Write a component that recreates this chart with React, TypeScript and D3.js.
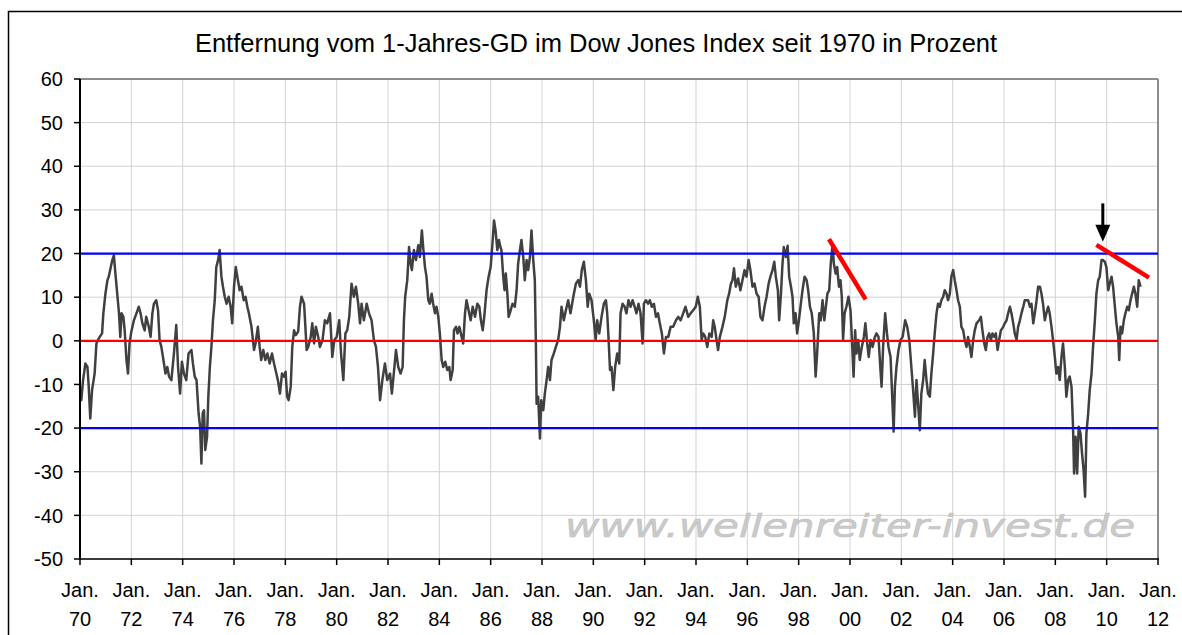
import React from "react";
import * as d3 from "d3";

// values: [decimal year, % distance to 1-year average]
const data1970s: [number, number][] = [
  [1970.0, -10.5], [1970.05, -13.6], [1970.12, -9], [1970.21, -5.2], [1970.29, -6], [1970.34, -10.5], [1970.4, -17.8], [1970.47, -11.3], [1970.53, -9], [1970.57, -7.5], [1970.64, -0.6], [1970.7, 0.2], [1970.77, 0.9], [1970.86, 1.7], [1970.91, 6.3], [1970.99, 10.8],
  [1971.07, 13.9], [1971.12, 14.7], [1971.2, 16.9], [1971.26, 18.5], [1971.32, 19.6], [1971.38, 15.4], [1971.45, 10.8], [1971.52, 6.3], [1971.57, 0.9], [1971.62, 6.3], [1971.69, 5.5], [1971.74, 2.4], [1971.81, -4.4], [1971.87, -7.5], [1971.93, -0.6],
  [1972.0, 2.1], [1972.1, 4.7], [1972.2, 6.3], [1972.29, 7.8], [1972.36, 6.3], [1972.43, 4.0], [1972.52, 2.4], [1972.58, 5.5], [1972.68, 3.2], [1972.75, 0.9], [1972.82, 6.3], [1972.88, 8.5], [1972.97, 9.3],
  [1973.04, 7.0], [1973.1, 0.2], [1973.17, -1.4], [1973.25, -4.4], [1973.33, -7.5], [1973.4, -6], [1973.47, -8.2], [1973.56, -9], [1973.66, -2.9], [1973.75, 3.6], [1973.82, -6], [1973.9, -12.1], [1973.97, -4.8],
  [1974.05, -7.5], [1974.14, -9], [1974.23, -2.9], [1974.34, -2.1], [1974.4, -5.2], [1974.47, -8.2], [1974.54, -9], [1974.62, -16.6], [1974.68, -19.7], [1974.73, -28.1], [1974.78, -16.6], [1974.83, -15.9], [1974.88, -25], [1974.95, -22],
  [1975.0, -12.8], [1975.06, -6], [1975.12, -1.4], [1975.18, 4.7], [1975.25, 9.3], [1975.31, 16.9], [1975.38, 18.5], [1975.44, 20.8], [1975.51, 14.7], [1975.57, 12.4], [1975.64, 10.1], [1975.71, 8.5], [1975.79, 10.1], [1975.87, 7.8], [1975.93, 4.0],
  [1976.0, 12.4], [1976.07, 16.9], [1976.13, 14.7], [1976.22, 11.6], [1976.29, 12.4], [1976.38, 9.3], [1976.45, 10.1], [1976.52, 7.8], [1976.58, 6.3], [1976.68, 3.2], [1976.78, -2.1], [1976.84, -0.6], [1976.93, 3.2],
  [1977.0, -1.4], [1977.06, -4.4], [1977.14, -2.1], [1977.22, -4.4], [1977.3, -2.9], [1977.39, -5.2], [1977.48, -2.9], [1977.56, -5.2], [1977.65, -7.5], [1977.71, -9], [1977.79, -12.1], [1977.87, -7.5], [1977.95, -8.2],
  [1978.01, -7.1], [1978.07, -12.8], [1978.13, -13.6], [1978.21, -10.5], [1978.27, -1.4], [1978.34, 2.4], [1978.41, 1.3], [1978.5, 2.1], [1978.57, 7.8], [1978.63, 10.1], [1978.73, 8.5], [1978.76, 5.5], [1978.83, -2.1], [1978.89, -1.4], [1978.99, 0.9],
  [1979.05, 4.0], [1979.12, -0.6], [1979.19, 3.2], [1979.28, 0.9], [1979.35, -1.4], [1979.45, 0.2], [1979.54, 4.7], [1979.63, 4.0], [1979.74, 6.3], [1979.83, -3.7], [1979.91, 0.2],
];

const data1980s: [number, number][] = [
  [1980.0, 0.9], [1980.1, 4.7], [1980.17, -2.9], [1980.26, -9], [1980.34, 1.7], [1980.41, 2.4], [1980.49, 5.5], [1980.58, 13.1], [1980.67, 10.1], [1980.75, 12.4], [1980.84, 8.5], [1980.91, 4.0], [1980.97, 8.5],
  [1981.06, 4.7], [1981.17, 8.5], [1981.26, 6.3], [1981.36, 4.7], [1981.45, 0.2], [1981.53, -1.4], [1981.61, -6], [1981.69, -13.6], [1981.78, -9], [1981.88, -5.2], [1981.97, -9],
  [1982.08, -7.5], [1982.15, -12.1], [1982.25, -6], [1982.31, -2.1], [1982.4, -6], [1982.49, -7.5], [1982.57, -6], [1982.62, 4.7], [1982.67, 10.1], [1982.75, 13.9], [1982.82, 21.5], [1982.88, 17.7], [1982.93, 16.2],
  [1983.01, 20.8], [1983.09, 18.5], [1983.18, 21.9], [1983.24, 19.2], [1983.32, 25.3], [1983.37, 21.5], [1983.44, 16.9], [1983.5, 14.7], [1983.57, 9.3], [1983.63, 8.5], [1983.7, 10.8], [1983.76, 8.5], [1983.83, 6.3], [1983.89, 7.8], [1983.96, 5.5],
  [1984.02, 1.7], [1984.09, -4.4], [1984.15, -6], [1984.23, -4.8], [1984.31, -6.7], [1984.39, -6], [1984.44, -9], [1984.52, -6.7], [1984.57, 2.4], [1984.65, 3.2], [1984.71, 1.7], [1984.78, 3.2], [1984.87, 0.9], [1984.93, -0.6],
  [1985.0, 6.3], [1985.06, 9.3], [1985.14, 7.0], [1985.22, 4.7], [1985.3, 7.8], [1985.39, 5.5], [1985.48, 8.5], [1985.56, 7.8], [1985.62, 4.7], [1985.69, 2.4], [1985.75, 5.5], [1985.84, 11.6], [1985.92, 14.7],
  [1986.0, 16.9], [1986.08, 23.1], [1986.13, 27.6], [1986.19, 25.3], [1986.26, 20.8], [1986.32, 23.1], [1986.38, 21.5], [1986.42, 20.8], [1986.49, 14.7], [1986.54, 11.6], [1986.59, 15.4], [1986.65, 10.8], [1986.7, 5.5], [1986.78, 7.0], [1986.85, 8.5], [1986.94, 7.8],
  [1987.01, 11.6], [1987.07, 17.7], [1987.14, 20.8], [1987.2, 23.1], [1987.27, 19.2], [1987.33, 13.9], [1987.4, 18.5], [1987.46, 16.2], [1987.53, 19.2], [1987.59, 25.3], [1987.66, 18.5], [1987.72, 13.9], [1987.76, 0.2], [1987.79, -14.4], [1987.85, -12.8], [1987.92, -22.4], [1987.97, -13.6],
  [1988.05, -15.9], [1988.11, -12.1], [1988.18, -9], [1988.24, -6], [1988.31, -9], [1988.37, -4.4], [1988.46, -2.9], [1988.54, -1.4], [1988.63, 0.2], [1988.7, 3.2], [1988.76, 7.8], [1988.85, 4.7], [1988.93, 7.0],
  [1989.02, 9.3], [1989.11, 6.3], [1989.22, 10.1], [1989.32, 13.1], [1989.41, 13.9], [1989.48, 12.4], [1989.55, 16.2], [1989.63, 18.1], [1989.71, 13.9], [1989.78, 7.8], [1989.84, 10.8], [1989.93, 9.3],
];

const data1990s: [number, number][] = [
  [1990.02, 4.7], [1990.09, 0.2], [1990.15, 4.7], [1990.23, 1.7], [1990.32, 5.5], [1990.41, 8.5], [1990.49, 9.3], [1990.54, 6.3], [1990.59, 0.9], [1990.65, -6.7], [1990.71, -6], [1990.78, -11.3], [1990.85, -6], [1990.93, -2.9],
  [1991.01, -5.2], [1991.06, 6.3], [1991.14, 8.5], [1991.22, 7.8], [1991.29, 6.3], [1991.37, 9.3], [1991.45, 7.8], [1991.53, 9.3], [1991.61, 7.8], [1991.68, 6.3], [1991.76, 8.5], [1991.84, 6.3], [1991.92, -0.6], [1991.97, 8.5],
  [1992.05, 9.3], [1992.13, 8.5], [1992.2, 9.3], [1992.28, 7.8], [1992.36, 8.5], [1992.44, 5.5], [1992.52, 6.3], [1992.59, 4.0], [1992.67, 1.7], [1992.75, -2.9], [1992.83, 0.9], [1992.92, 0.9],
  [1993.01, 3.2], [1993.11, 3.2], [1993.22, 4.7], [1993.31, 5.5], [1993.4, 4.7], [1993.5, 6.3], [1993.59, 7.8], [1993.7, 5.5], [1993.79, 6.3], [1993.89, 7.0], [1993.99, 7.8],
  [1994.07, 10.1], [1994.15, 7.8], [1994.22, 0.2], [1994.28, 1.7], [1994.36, 0.9], [1994.44, -1.4], [1994.52, 1.7], [1994.61, 0.9], [1994.67, 4.7], [1994.73, 3.2], [1994.8, 0.2], [1994.86, -2.1], [1994.93, 0.9],
  [1995.03, 3.2], [1995.12, 5.5], [1995.22, 9.3], [1995.29, 10.8], [1995.36, 13.1], [1995.42, 13.9], [1995.48, 16.6], [1995.55, 12.4], [1995.64, 14.3], [1995.73, 11.6], [1995.81, 13.9], [1995.89, 16.2], [1995.97, 14.7],
  [1996.05, 18.5], [1996.12, 16.2], [1996.2, 12.4], [1996.28, 13.1], [1996.36, 10.8], [1996.44, 10.1], [1996.51, 5.5], [1996.59, 4.7], [1996.67, 7.8], [1996.75, 10.1], [1996.83, 13.1], [1996.9, 14.7], [1996.98, 16.2],
  [1997.05, 18.1], [1997.11, 14.7], [1997.19, 11.6], [1997.24, 4.7], [1997.31, 10.8], [1997.37, 17.7], [1997.42, 21.5], [1997.5, 19.2], [1997.57, 21.8], [1997.63, 14.7], [1997.7, 12.4], [1997.76, 10.1], [1997.81, 4.0], [1997.88, 6.3], [1997.94, 1.7],
  [1998.01, 4.7], [1998.07, 7.8], [1998.15, 11.6], [1998.23, 14.7], [1998.31, 13.9], [1998.37, 11.6], [1998.44, 7.8], [1998.51, 6.3], [1998.59, 1.7], [1998.66, -8.2], [1998.72, -2.9], [1998.8, 6.3], [1998.86, 4.7], [1998.93, 9.3],
  [1999.0, 4.7], [1999.06, 7.8], [1999.12, 10.8], [1999.19, 11.6], [1999.25, 17.7], [1999.32, 22.0], [1999.37, 17.7], [1999.44, 15.4], [1999.5, 16.9], [1999.57, 12.4], [1999.63, 13.9], [1999.68, 10.1], [1999.73, 0.2], [1999.79, 6.3], [1999.86, 7.8], [1999.94, 10.1],
];

const data2000s: [number, number][] = [
  [2000.02, 7.0], [2000.07, 0.9], [2000.14, -8.2], [2000.2, 2.4], [2000.25, -2.9], [2000.32, 0.2], [2000.38, -4.4], [2000.46, -1.4], [2000.54, 0.9], [2000.6, 4.0], [2000.67, -0.6], [2000.73, -3.7], [2000.8, 0.2], [2000.88, -1.4], [2000.97, 0.9],
  [2001.03, 1.7], [2001.11, 0.9], [2001.18, -6], [2001.23, -10.5], [2001.29, -1.4], [2001.37, 6.3], [2001.44, 1.7], [2001.5, -1.4], [2001.58, -3.7], [2001.64, -12.1], [2001.7, -20.8], [2001.75, -10.5], [2001.81, -6], [2001.89, -2.1], [2001.97, 0.2],
  [2002.05, 0.9], [2002.15, 4.7], [2002.23, 3.2], [2002.31, 0.2], [2002.38, -5.2], [2002.46, -11.3], [2002.53, -17.4], [2002.59, -9], [2002.66, -15.1], [2002.72, -20.5], [2002.78, -12.1], [2002.85, -9], [2002.91, -4.4], [2002.98, -9],
  [2003.04, -12.1], [2003.11, -12.8], [2003.17, -7.5], [2003.24, -2.9], [2003.3, 1.7], [2003.37, 6.3], [2003.43, 8.5], [2003.5, 7.8], [2003.56, 9.3], [2003.63, 10.1], [2003.69, 11.6], [2003.76, 10.8], [2003.82, 9.3], [2003.89, 10.8], [2003.95, 14.7],
  [2004.02, 16.2], [2004.08, 13.9], [2004.15, 11.6], [2004.21, 9.3], [2004.28, 7.8], [2004.34, 3.2], [2004.41, 2.4], [2004.47, 0.2], [2004.54, -1.4], [2004.6, 0.9], [2004.67, -1.4], [2004.73, -3.7], [2004.8, 0.2], [2004.86, 2.4], [2004.93, 4.0],
  [2005.03, 4.7], [2005.1, 5.5], [2005.16, 2.4], [2005.23, -0.6], [2005.29, -2.1], [2005.36, 0.9], [2005.42, 1.7], [2005.49, 0.2], [2005.55, 1.7], [2005.62, 0.9], [2005.68, 1.7], [2005.75, -2.1], [2005.81, 0.2], [2005.88, 2.4], [2005.97, 3.2],
  [2006.03, 4.0], [2006.1, 4.7], [2006.16, 6.3], [2006.23, 7.8], [2006.29, 6.3], [2006.36, 4.0], [2006.42, 1.7], [2006.49, 0.2], [2006.55, 3.2], [2006.62, 4.7], [2006.68, 6.3], [2006.75, 7.8], [2006.81, 9.3], [2006.88, 9.3], [2006.94, 9.3],
  [2007.01, 7.8], [2007.07, 8.5], [2007.14, 4.0], [2007.2, 6.3], [2007.27, 9.3], [2007.33, 12.4], [2007.4, 12.4], [2007.46, 10.8], [2007.52, 8.5], [2007.59, 4.7], [2007.65, 6.3], [2007.72, 7.8], [2007.78, 6.3], [2007.85, 3.2], [2007.91, 0.2], [2007.98, -3.7],
  [2008.04, -7.5], [2008.11, -6], [2008.17, -9], [2008.24, -3.7], [2008.3, -0.6], [2008.37, -6], [2008.43, -12.8], [2008.5, -9], [2008.56, -8.2], [2008.63, -10.5], [2008.69, -19.7], [2008.73, -30.4], [2008.79, -22], [2008.85, -30.4], [2008.91, -19.7], [2008.98, -21.2],
  [2009.04, -25.8], [2009.1, -29.6], [2009.16, -35.7], [2009.21, -21.2], [2009.28, -16.6], [2009.34, -11.3], [2009.41, -7.5], [2009.47, -1.4], [2009.54, 4.7], [2009.6, 10.8], [2009.67, 13.9], [2009.73, 14.7], [2009.8, 18.5], [2009.86, 18.5], [2009.93, 18.1], [2009.99, 16.9],
];

const data2010s: [number, number][] = [
  [2010.06, 11.6], [2010.12, 13.1], [2010.19, 14.7], [2010.25, 12.4], [2010.32, 7.8], [2010.38, 4.0], [2010.45, 0.9], [2010.49, -4.4], [2010.54, 3.2], [2010.6, 1.7], [2010.67, 4.7], [2010.73, 6.3], [2010.8, 7.8], [2010.86, 7.0], [2010.93, 9.3], [2010.99, 10.8],
  [2011.06, 12.4], [2011.12, 10.8], [2011.19, 7.8], [2011.25, 13.9], [2011.32, 12.4],
];

const series = [...data1970s, ...data1980s, ...data1990s, ...data2000s, ...data2010s];

const yTicks = [60, 50, 40, 30, 20, 10, 0, -10, -20, -30, -40, -50];
const xTickYears = d3.range(1970, 2013, 2);
const blueLevels = [20, -20];
const redLevel = 0;

// hand-drawn annotations, in data units
const trendLines: [number, number][][] = [
  [[1999.18, 23.3], [2000.61, 9.5]],
  [[2009.6, 22.0], [2011.65, 14.5]],
];
const arrowMark = { year: 2009.85, from: 31.5, to: 22.7 };

const title = "Entfernung vom 1-Jahres-GD im Dow Jones Index seit 1970 in Prozent";
const watermark = "www.wellenreiter-invest.de";

const font = "'Liberation Sans', Arial, sans-serif";

const App = () => {
  const x = d3.scaleLinear().domain([1970, 2012]).range([80, 1158]);
  const y = d3.scaleLinear().domain([-50, 60]).range([559, 79]);

  const line = d3
    .line<[number, number]>()
    .x((d) => x(d[0]))
    .y((d) => y(d[1]));

  const ax = x(arrowMark.year);
  const tip = y(arrowMark.to);

  return (
    <svg
      width={1182}
      height={635}
      style={{ position: "absolute", left: 0, top: 0, background: "#fff" }}
    >
      <rect x={8.5} y={11.5} width={1200} height={700} fill="#fff" stroke="#000" strokeWidth={1.5} />

      <text x={596} y={52} textAnchor="middle" fontFamily={font} fontSize={25.5}>
        {title}
      </text>

      {/* grid */}
      {yTicks.map((t) => (
        <line key={"gy" + t} x1={80} x2={1158} y1={y(t)} y2={y(t)} stroke="#d2d2d2" strokeWidth={1} />
      ))}
      {xTickYears.map((t) => (
        <line key={"gx" + t} x1={x(t)} x2={x(t)} y1={79} y2={559} stroke="#d2d2d2" strokeWidth={1} />
      ))}

      {/* watermark */}
      <text
        x={565}
        y={537}
        fontFamily="'DejaVu Sans', Verdana, sans-serif"
        fontStyle="italic"
        fontSize={32}
        fill="#cacaca"
        stroke="#bdbdbd"
        strokeWidth={0.5}
        textLength={570}
        lengthAdjust="spacingAndGlyphs"
      >
        {watermark}
      </text>

      {/* plot frame */}
      <line x1={80} x2={1158} y1={79} y2={79} stroke="#8c8c8c" strokeWidth={2} />
      <line x1={1158} x2={1158} y1={79} y2={559} stroke="#8c8c8c" strokeWidth={2} />

      {/* series */}
      <path d={line(series) || ""} fill="none" stroke="#404040" strokeWidth={2.5} strokeLinejoin="round" />

      {/* reference levels */}
      {blueLevels.map((v) => (
        <line key={"b" + v} x1={80} x2={1158} y1={y(v)} y2={y(v)} stroke="#0000ff" strokeWidth={2.2} />
      ))}
      <line x1={80} x2={1158} y1={y(redLevel)} y2={y(redLevel)} stroke="#ff0000" strokeWidth={2.2} />

      {/* annotations */}
      {trendLines.map((seg, i) => (
        <line
          key={"t" + i}
          x1={x(seg[0][0])}
          y1={y(seg[0][1])}
          x2={x(seg[1][0])}
          y2={y(seg[1][1])}
          stroke="#ff0000"
          strokeWidth={4.5}
        />
      ))}
      <line x1={ax} x2={ax} y1={y(arrowMark.from)} y2={tip - 14} stroke="#000" strokeWidth={3} />
      <path d={`M${ax - 7.5},${tip - 17} L${ax + 7.5},${tip - 17} L${ax},${tip} Z`} fill="#000" />

      {/* axes */}
      <line x1={80} x2={80} y1={79} y2={560} stroke="#000" strokeWidth={2} />
      <line x1={79} x2={1159} y1={559} y2={559} stroke="#000" strokeWidth={1.5} />
      {yTicks.map((t) => (
        <g key={"yt" + t}>
          <line x1={74} x2={80} y1={y(t)} y2={y(t)} stroke="#000" strokeWidth={1.5} />
          <text x={63} y={y(t)} dy="0.36em" textAnchor="end" fontFamily={font} fontSize={20}>
            {t}
          </text>
        </g>
      ))}
      {xTickYears.map((t) => (
        <g key={"xt" + t}>
          <line x1={x(t)} x2={x(t)} y1={559} y2={565} stroke="#000" strokeWidth={1.5} />
          <text x={x(t)} y={597} textAnchor="middle" fontFamily={font} fontSize={20}>
            Jan.
          </text>
          <text x={x(t)} y={626} textAnchor="middle" fontFamily={font} fontSize={20}>
            {String(t % 100).padStart(2, "0")}
          </text>
        </g>
      ))}
    </svg>
  );
};

export default App;
